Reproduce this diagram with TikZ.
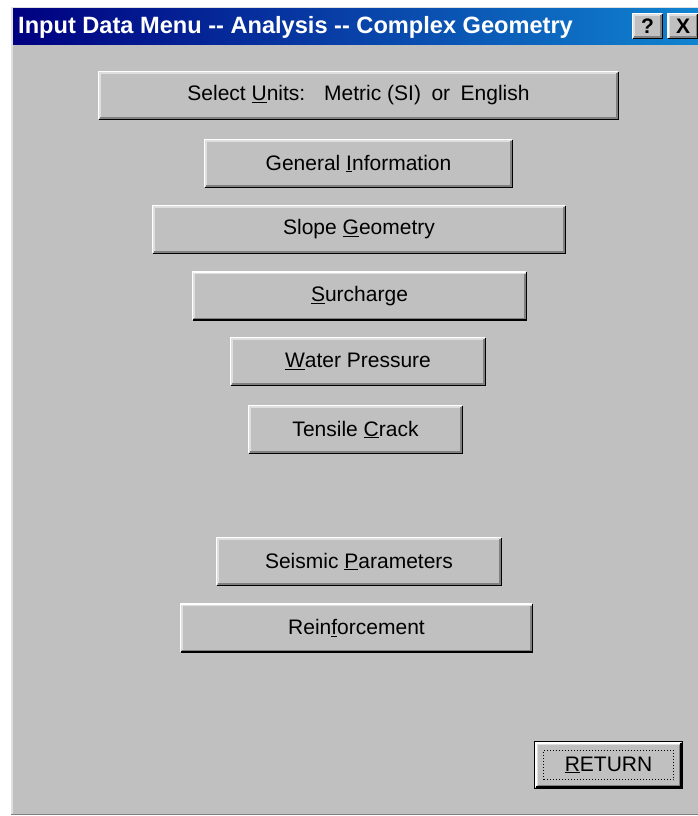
\documentclass[tikz,border=0pt]{standalone}
\usepackage{fontspec}
\setmainfont{Liberation Sans}
\definecolor{wingray}{RGB}{192,192,192}
\definecolor{winlight}{RGB}{223,223,223}
\definecolor{windark}{RGB}{128,128,128}
\definecolor{tbnavy}{RGB}{0,0,128}
\definecolor{tbblue}{RGB}{16,132,208}

\begin{document}
\begin{tikzpicture}
[x=1pt,y=-1pt,
 btn/.style={rectangle,fill=wingray,minimum height=49pt,inner sep=0pt,
   font=\fontsize{21}{24}\selectfont},
 tbbtn/.style={rectangle,fill=wingray,minimum width=31pt,minimum height=26pt,
   inner sep=0pt,font=\fontsize{21}{24}\bfseries}]
\useasboundingbox[fill=white] (0,0) rectangle (698,816);
% window and title bar
\fill[wingray] (11,7) rectangle (698,815);
\draw[winlight,line width=1.5pt] (11.75,815) -- (11.75,7.75) -- (698,7.75);
\draw[windark,line width=1.5pt] (11,814.25) -- (698,814.25);
\shade[left color=tbnavy,right color=tbblue] (13,9) rectangle (698,45);
\node[anchor=west,inner sep=0pt,text=white,font=\fontsize{23.6}{26}\bfseries] (title) at (18,27)
  {Input Data Menu -{}- Analysis -{}- Complex Geometry};
\node[tbbtn] (help) at (647.5,26) {?};
\node[tbbtn] (close) at (683,26) {X};
% menu buttons
\node[btn,minimum width=521pt] (units) at (358.5,95.5)
  {Select \underline{U}nits:\hspace{0.9em}Metric (SI)\hspace{0.5em}or\hspace{0.5em}English};
\node[btn,minimum width=309pt] (general) at (358.5,163.5) {General \underline{I}nformation};
\node[btn,minimum width=414pt] (slope) at (359,229.5) {Slope \underline{G}eometry};
\node[btn,minimum width=335pt] (surcharge) at (359.5,296) {\underline{S}urcharge};
\node[btn,minimum width=256pt] (water) at (358,361.5) {\underline{W}ater Pressure};
\node[btn,minimum width=215pt] (crack) at (355.5,429.5) {Tensile \underline{C}rack};
\node[btn,minimum width=286pt] (seismic) at (359,561.5) {Seismic \underline{P}arameters};
\node[btn,minimum width=353pt] (reinf) at (356.5,628) {Rein\underline{f}orcement};
\node[btn,minimum width=146pt,minimum height=45pt] (ret) at (608.5,765) {\underline{R}ETURN};
% bevels
\foreach \b in {help,close,units,general,slope,surcharge,water,crack,seismic,reinf,ret}{
  \draw[white,line width=1.5pt] ([shift={(.75pt,.75pt)}]\b.south west) |- ([shift={(-.75pt,-.75pt)}]\b.north east);
  \draw[black,line width=1.5pt] ([shift={(.75pt,.75pt)}]\b.south west) -| ([shift={(-.75pt,-.75pt)}]\b.north east);
  \draw[winlight,line width=1.5pt] ([shift={(2.25pt,2.25pt)}]\b.south west) |- ([shift={(-2.25pt,-2.25pt)}]\b.north east);
  \draw[windark,line width=1.5pt] ([shift={(2.25pt,2.25pt)}]\b.south west) -| ([shift={(-2.25pt,-2.25pt)}]\b.north east);
}
% default button frame and focus
\draw[black,line width=1.5pt] ([shift={(-.75pt,-.75pt)}]ret.south west) rectangle ([shift={(.75pt,.75pt)}]ret.north east);
\draw[black,line width=1pt,dotted] ([shift={(8pt,8pt)}]ret.south west) rectangle ([shift={(-8pt,-8pt)}]ret.north east);
\end{tikzpicture}
\end{document}
